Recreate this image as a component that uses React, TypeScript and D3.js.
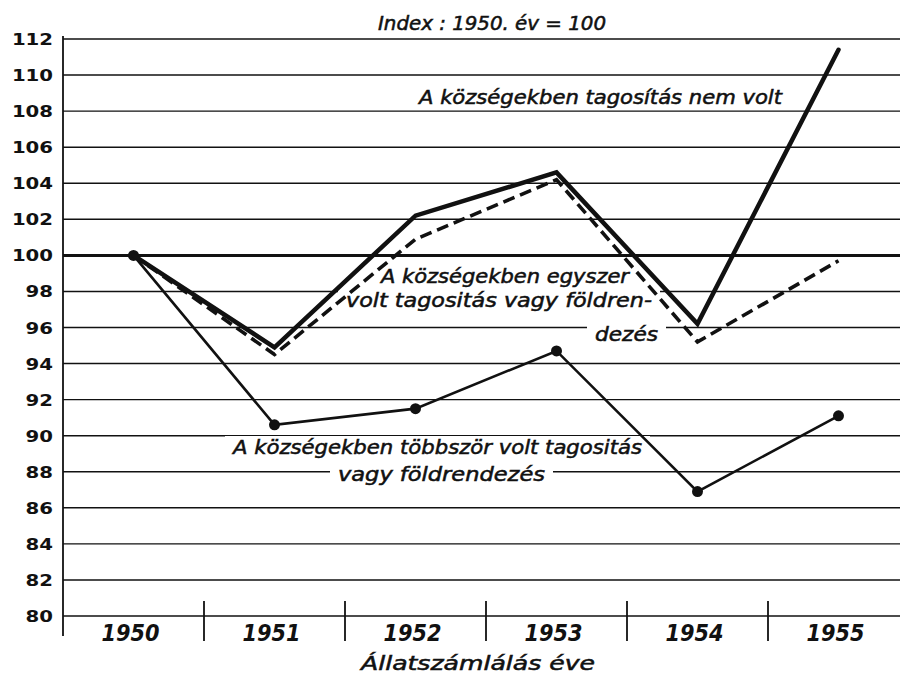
import React from 'react';
import * as d3 from 'd3';

const years = ['1950', '1951', '1952', '1953', '1954', '1955'];
const yTickValues = [80, 82, 84, 86, 88, 90, 92, 94, 96, 98, 100, 102, 104, 106, 108, 110, 112];
const nemVolt = [100, 94.9, 102.2, 104.6, 96.2, 111.4];
const egyszer = [100, 94.5, 100.9, 104.2, 95.2, 99.7];
const tobbszor = [100, 90.6, 91.5, 94.7, 86.9, 91.1];

const titleText = 'Index : 1950. év = 100';
const xAxisTitle = 'Állatszámlálás éve';
const label1 = 'A községekben tagosítás nem volt';
const label2 = ['A községekben egyszer', 'volt tagositás vagy földren-', 'dezés'];
const label3 = ['A községekben többször volt tagositás', 'vagy földrendezés'];

const W = 900;
const H = 676;
const FONT = '"DejaVu Sans Condensed", "DejaVu Sans", sans-serif';

export default function App() {
  const x = d3.scaleBand<string>().domain(years).range([63, 909]).padding(0);
  const cx = (yr: string) => (x(yr) as number) + x.bandwidth() / 2;
  const y = d3.scaleLinear().domain([80, 112]).range([616, 39]);

  const line = d3
    .line<number>()
    .x((_, i) => cx(years[i]))
    .y((d) => y(d));

  const axisX = 63;
  const gridRight = 900;

  const knockouts: [string, number, number, number][] = [
    [label2[0], 381, 283, 248],
    [label2[1], 346, 307, 306],
    [label2[2], 595, 341, 63],
    [label3[0], 233, 454, 409],
    [label3[1], 338, 481, 207],
  ];

  const textStyle = {
    fontFamily: FONT,
    fontStyle: 'italic' as const,
    fontSize: 20,
    fill: '#111',
    stroke: '#111',
    strokeWidth: 0.5,
  };

  return (
    <svg
      width={W}
      height={H}
      style={{ position: 'absolute', left: 0, top: 0, background: '#fff' }}
    >
      <rect x={0} y={0} width={W} height={H} fill="#fff" />
      {yTickValues.map((v) => (
        <line
          key={v}
          x1={axisX}
          x2={gridRight}
          y1={y(v)}
          y2={y(v)}
          stroke="#111"
          strokeWidth={v === 100 ? 3 : 1.4}
        />
      ))}
      <line x1={axisX} x2={axisX} y1={y(112) - 3} y2={y(80) + 20} stroke="#111" strokeWidth={1.8} />
      {years.slice(1).map((yr) => (
        <line
          key={yr}
          x1={x(yr) as number}
          x2={x(yr) as number}
          y1={y(80) - 15}
          y2={y(80) + 25}
          stroke="#111"
          strokeWidth={1.8}
        />
      ))}
      {yTickValues.map((v) => {
        const s = String(v);
        return (
          <text
            key={v}
            x={53}
            y={y(v) + 6}
            textAnchor="end"
            fontFamily={FONT}
            fontWeight="bold"
            fontSize={16}
            textLength={s.length * 13.7}
            lengthAdjust="spacingAndGlyphs"
            fill="#111"
          >
            {s}
          </text>
        );
      })}
      {years.map((yr) => (
        <text
          key={yr}
          x={cx(yr) - 3}
          y={641}
          textAnchor="middle"
          fontFamily={FONT}
          fontWeight="bold"
          fontStyle="italic"
          fontSize={23}
          textLength={58}
          lengthAdjust="spacingAndGlyphs"
          fill="#111"
        >
          {yr}
        </text>
      ))}
      <text x={361} y={670} {...textStyle} textLength={234} lengthAdjust="spacingAndGlyphs">
        {xAxisTitle}
      </text>
      <text x={378} y={30} {...textStyle} textLength={228} lengthAdjust="spacingAndGlyphs">
        {titleText}
      </text>
      {knockouts.map(([t, tx, ty, tw]) => (
        <rect key={t} x={tx - 8} y={ty - 18} width={tw + 16} height={24} fill="#fff" />
      ))}
      <path
        d={line(tobbszor) as string}
        fill="none"
        stroke="#111"
        strokeWidth={2.6}
        strokeLinejoin="miter"
      />
      {tobbszor.map((v, i) => (
        <circle key={i} cx={cx(years[i])} cy={y(v)} r={5.5} fill="#111" />
      ))}
      <path
        d={line(egyszer) as string}
        fill="none"
        stroke="#111"
        strokeWidth={3.6}
        strokeDasharray="12 6"
        strokeLinejoin="miter"
      />
      <path
        d={line(nemVolt) as string}
        fill="none"
        stroke="#111"
        strokeWidth={4.5}
        strokeLinejoin="miter"
        strokeLinecap="round"
      />
      <text x={419} y={104} {...textStyle} textLength={363} lengthAdjust="spacingAndGlyphs">
        {label1}
      </text>
      {knockouts.map(([t, tx, ty, tw]) => (
        <text key={t} x={tx} y={ty} {...textStyle} textLength={tw} lengthAdjust="spacingAndGlyphs">
          {t}
        </text>
      ))}
    </svg>
  );
}
